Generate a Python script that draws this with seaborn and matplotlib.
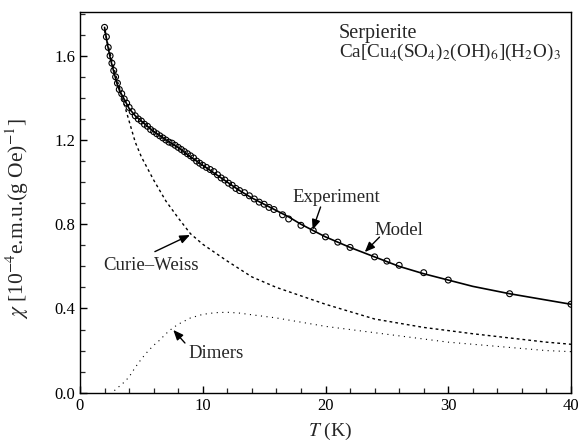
import numpy as np
import pandas as pd
import matplotlib
matplotlib.use("Agg")
import matplotlib.pyplot as plt
from matplotlib.ticker import MultipleLocator
import seaborn as sns

# ---- data ----
model_T = [2.0, 2.25, 2.5, 2.75, 3.0, 3.25, 3.5, 4.0, 4.5, 5.0, 5.5, 6.0, 7.0, 8.0, 9.0,
           10.0, 11.0, 12.0, 13.0, 14.0, 15.0, 16.0, 17.0, 18.0, 19.0, 20.0, 22.0, 24.0,
           26.0, 28.0, 30.0, 32.0, 35.0, 38.0, 40.0]
model_chi = [1.735, 1.65, 1.58, 1.525, 1.47, 1.43, 1.405, 1.35, 1.315, 1.29, 1.265, 1.24,
             1.20, 1.165, 1.12, 1.08, 1.04, 1.00, 0.96, 0.925, 0.895, 0.865, 0.835, 0.80,
             0.77, 0.74, 0.69, 0.645, 0.60, 0.565, 0.535, 0.505, 0.47, 0.44, 0.42]

cw_T = [2.0, 2.5, 3.0, 3.5, 4.0, 4.5, 5.0, 6.0, 7.0, 8.0, 9.0, 10.0, 11.0, 12.0, 14.0,
        16.0, 18.0, 20.0, 22.0, 24.0, 26.0, 28.0, 30.0, 32.0, 35.0, 38.0, 40.0]
cw_chi = [1.72, 1.60, 1.49, 1.39, 1.29, 1.19, 1.12, 1.01, 0.91, 0.83, 0.755, 0.705, 0.665,
          0.625, 0.55, 0.50, 0.46, 0.42, 0.385, 0.35, 0.33, 0.31, 0.295, 0.28, 0.26, 0.24, 0.23]

dim_T = [2.8, 3.2, 3.6, 4.0, 4.5, 5.0, 5.5, 6.0, 6.5, 7.0, 7.5, 8.0, 8.5, 9.0, 10.0, 11.0,
         12.0, 13.0, 14.0, 16.0, 18.0, 20.0, 22.0, 24.0, 26.0, 28.0, 30.0, 32.0, 35.0, 38.0, 40.0]
dim_chi = [0.01, 0.03, 0.05, 0.075, 0.12, 0.16, 0.195, 0.225, 0.25, 0.28, 0.305, 0.325, 0.34,
           0.355, 0.372, 0.38, 0.382, 0.378, 0.37, 0.355, 0.335, 0.315, 0.30, 0.285, 0.27,
           0.255, 0.24, 0.23, 0.215, 0.20, 0.195]

exp_T = [2.0, 2.15, 2.3, 2.45, 2.6, 2.75, 2.9, 3.05, 3.2, 3.4, 3.6, 3.8, 4.0, 4.25, 4.5, 4.75,
         5.0, 5.25, 5.5, 5.75, 6.0, 6.25, 6.5, 6.75, 7.0, 7.25, 7.5, 7.75, 8.0, 8.25, 8.5,
         8.75, 9.0, 9.25, 9.5, 9.75, 10.0, 10.3, 10.6, 10.9, 11.2, 11.5, 11.8, 12.1, 12.4,
         12.7, 13.0, 13.4, 13.8, 14.2, 14.6, 15.0, 15.4, 15.8, 16.5, 17.0, 18.0, 19.0, 20.0,
         21.0, 22.0, 24.0, 25.0, 26.0, 28.0, 30.0, 35.0, 40.0]
exp_chi = [1.735, 1.69, 1.64, 1.60, 1.565, 1.53, 1.50, 1.47, 1.44, 1.42, 1.395, 1.375, 1.355,
           1.335, 1.315, 1.30, 1.29, 1.275, 1.265, 1.25, 1.24, 1.23, 1.22, 1.21, 1.20, 1.19,
           1.185, 1.175, 1.165, 1.155, 1.145, 1.135, 1.125, 1.115, 1.10, 1.09, 1.08, 1.07,
           1.06, 1.05, 1.035, 1.02, 1.01, 0.995, 0.985, 0.97, 0.96, 0.95, 0.935, 0.92, 0.905,
           0.895, 0.88, 0.87, 0.845, 0.825, 0.795, 0.77, 0.74, 0.715, 0.69, 0.645, 0.625,
           0.605, 0.57, 0.535, 0.47, 0.42]

x_major = [0, 10, 20, 30, 40]
y_major = [0.0, 0.4, 0.8, 1.2, 1.6]
y_labels = ["0.0", "0.4", "0.8", "1.2", "1.6"]

# ---- style ----
sns.set_style("ticks")
plt.rcParams['font.family'] = ['Liberation Serif', 'DejaVu Serif']
plt.rcParams['mathtext.fontset'] = 'stix'
plt.rcParams['xtick.direction'] = 'in'
plt.rcParams['ytick.direction'] = 'in'

fig = plt.figure(figsize=(5.78, 4.42), dpi=100)
ax = fig.add_axes([80/578, 1 - 392.7/442, (571-80)/578, (392.7-12)/442])

model_df = pd.DataFrame({"T": model_T, "chi": model_chi})
cw_df = pd.DataFrame({"T": cw_T, "chi": cw_chi})
dim_df = pd.DataFrame({"T": dim_T, "chi": dim_chi})
exp_df = pd.DataFrame({"T": exp_T, "chi": exp_chi})

sns.lineplot(data=cw_df, x="T", y="chi", ax=ax, color="black", lw=1.0,
             linestyle=(0, (2.0, 2.2)), sort=True)
sns.lineplot(data=dim_df, x="T", y="chi", ax=ax, color="black", lw=0.8,
             linestyle=(0, (1, 4)), sort=True)
sns.lineplot(data=model_df, x="T", y="chi", ax=ax, color="black", lw=1.2, sort=True)
sns.scatterplot(data=exp_df, x="T", y="chi", ax=ax, marker="o", s=18,
                facecolor="none", edgecolor="black", linewidth=0.8, zorder=3)

ax.set_xlim(0, 40)
ax.set_ylim(0, 1.808)
ax.set_xticks(x_major)
ax.set_yticks(y_major)
ax.set_yticklabels(y_labels)
ax.xaxis.set_minor_locator(MultipleLocator(2))
ax.yaxis.set_minor_locator(MultipleLocator(0.1))
ax.tick_params(which="major", length=5, width=1.0, labelsize=12, colors="black")
ax.tick_params(which="minor", length=3.5, width=0.9)
for sp in ax.spines.values():
    sp.set_visible(True)
    sp.set_linewidth(1.0)
    sp.set_color("black")

ax.set_xlabel(r"$T$ (K)", fontsize=14)
ax.set_ylabel(r"$\chi$ [10$^{-4}$e.m.u.(g Oe)$^{-1}$]", fontsize=15.5)
ax.yaxis.set_label_coords(-0.1, 0.456)
ax.xaxis.set_label_coords(0.51, -0.075)

ax.text(21.1, 1.683, "Serpierite", fontsize=14.5, ha="left", va="baseline")
ax.text(21.1, 1.595, r"Ca[Cu$_4$(SO$_4$)$_2$(OH)$_6$](H$_2$O)$_3$", fontsize=13.8,
        ha="left", va="baseline")

arrow = dict(arrowstyle="-|>,head_length=0.6,head_width=0.25", color="black", lw=1.0,
             shrinkA=0, shrinkB=0)
ax.text(20.85, 0.905, "Experiment", fontsize=13.5, ha="center", va="baseline")
ax.annotate("", xy=(18.95, 0.774), xytext=(19.6, 0.882), arrowprops=arrow)
ax.text(24.0, 0.749, "Model", fontsize=13.5, ha="left", va="baseline")
ax.annotate("", xy=(23.2, 0.668), xytext=(24.4, 0.739), arrowprops=arrow)
ax.text(1.87, 0.582, "Curie\u2013Weiss", fontsize=13.5, ha="left", va="baseline")
ax.annotate("", xy=(8.96, 0.749), xytext=(6.1, 0.67), arrowprops=arrow)
ax.text(8.8, 0.165, "Dimers", fontsize=13.5, ha="left", va="baseline")
ax.annotate("", xy=(7.6, 0.298), xytext=(8.55, 0.236), arrowprops=arrow)

fig.savefig("out.png", dpi=100, facecolor="white")
